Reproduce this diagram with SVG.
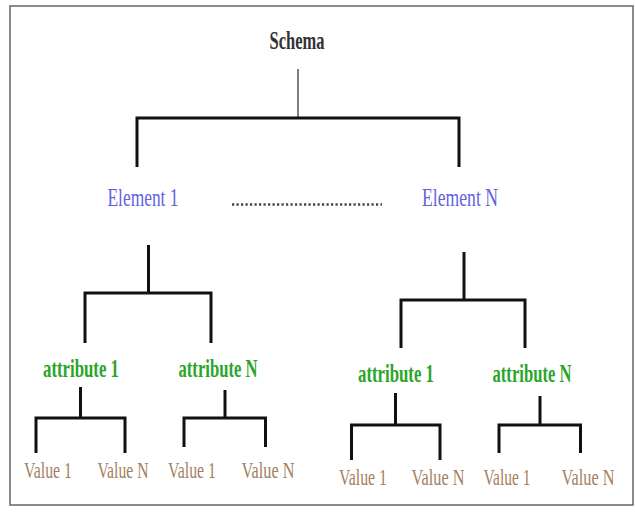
<svg xmlns="http://www.w3.org/2000/svg" width="635" height="515" viewBox="0 0 635 515">
<style>
text{font-family:"Liberation Serif","Times New Roman",serif;text-anchor:middle}
.schema{font-size:25px;font-weight:bold;fill:#333}
.elem{font-size:26px;fill:#6262dc}
.attr{font-size:25px;font-weight:bold;fill:#2aa52a}
.val{font-size:23px;fill:#a47f62}
.bar{fill:none;stroke:#111;stroke-width:3;stroke-linejoin:miter}
.thin{fill:none;stroke:#555;stroke-width:1.5}
</style>
<rect x="0" y="0" width="635" height="515" fill="#fff"/>
<rect x="10" y="6" width="623" height="499" fill="none" stroke="#666" stroke-width="1.5"/>
<g id="connectors">
<line class="thin" x1="298" y1="69" x2="298" y2="118"/>
<path class="bar" d="M137,167 V118 H459 V167"/>
<line class="bar" x1="148.5" y1="245" x2="148.5" y2="293"/>
<path class="bar" d="M85,343 V293 H211 V343"/>
<line class="bar" x1="464" y1="252" x2="464" y2="300"/>
<path class="bar" d="M401,348 V300 H525 V348"/>
<line class="bar" x1="80.5" y1="387" x2="80.5" y2="418"/>
<path class="bar" d="M36,453 V418 H125 V453"/>
<line class="bar" x1="225" y1="390" x2="225" y2="418"/>
<path class="bar" d="M184,447 V418 H265.5 V447"/>
<line class="bar" x1="395.5" y1="393" x2="395.5" y2="425"/>
<path class="bar" d="M351.5,460 V425 H440 V460"/>
<line class="bar" x1="540" y1="396" x2="540" y2="425"/>
<path class="bar" d="M499,453 V425 H580.5 V453"/>
<line x1="232" y1="204.5" x2="382" y2="204.5" stroke="#444" stroke-width="2.5" stroke-dasharray="2.2 2.3"/>
</g>
<g id="schema"><text class="schema" x="297" y="49" textLength="55" lengthAdjust="spacingAndGlyphs">Schema</text></g>
<g id="element1"><text class="elem" x="143" y="206" textLength="71" lengthAdjust="spacingAndGlyphs">Element 1</text></g>
<g id="elementN"><text class="elem" x="460" y="206" textLength="76" lengthAdjust="spacingAndGlyphs">Element N</text></g>
<g id="attr1-left"><text class="attr" x="81" y="377" textLength="76" lengthAdjust="spacingAndGlyphs">attribute 1</text></g>
<g id="attrN-left"><text class="attr" x="218" y="377" textLength="79" lengthAdjust="spacingAndGlyphs">attribute N</text></g>
<g id="attr1-right"><text class="attr" x="396" y="382" textLength="76" lengthAdjust="spacingAndGlyphs">attribute 1</text></g>
<g id="attrN-right"><text class="attr" x="532" y="382" textLength="79" lengthAdjust="spacingAndGlyphs">attribute N</text></g>
<g id="val-1a"><text class="val" x="48" y="478" textLength="48" lengthAdjust="spacingAndGlyphs">Value 1</text></g>
<g id="val-1b"><text class="val" x="123" y="478" textLength="51" lengthAdjust="spacingAndGlyphs">Value N</text></g>
<g id="val-1c"><text class="val" x="192" y="478" textLength="48" lengthAdjust="spacingAndGlyphs">Value 1</text></g>
<g id="val-1d"><text class="val" x="268" y="478" textLength="53" lengthAdjust="spacingAndGlyphs">Value N</text></g>
<g id="val-2a"><text class="val" x="363" y="485" textLength="48" lengthAdjust="spacingAndGlyphs">Value 1</text></g>
<g id="val-2b"><text class="val" x="438" y="485" textLength="53" lengthAdjust="spacingAndGlyphs">Value N</text></g>
<g id="val-2c"><text class="val" x="507" y="485" textLength="47" lengthAdjust="spacingAndGlyphs">Value 1</text></g>
<g id="val-2d"><text class="val" x="588" y="485" textLength="53" lengthAdjust="spacingAndGlyphs">Value N</text></g>
</svg>
